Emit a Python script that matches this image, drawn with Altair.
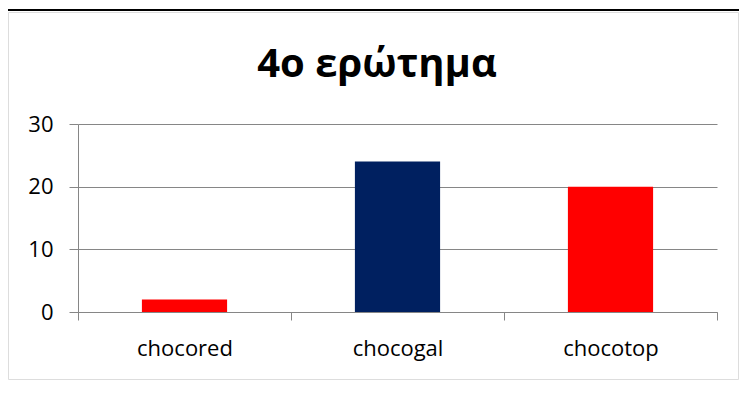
import altair as alt
import pandas as pd

categories = ["chocored", "chocogal", "chocotop"]
values = [2, 24, 20]
bar_colors = ["#FF0000", "#002060", "#FF0000"]
y_ticks = [0, 10, 20, 30]
title_text = "4ο ερώτημα"

df = pd.DataFrame({"cat": categories, "val": values})

FONT = "Open Sans"
GREY = "#868686"

bars = alt.Chart(df).mark_bar(width=alt.RelativeBandSize(0.4)).encode(
    x=alt.X(
        "cat:N",
        sort=categories,
        title=None,
        scale=alt.Scale(range=[70, 709], paddingInner=0, paddingOuter=0),
        axis=alt.Axis(
            orient="bottom",
            offset=-67,
            labelAngle=0,
            labelFont=FONT,
            labelFontSize=22,
            labelColor="black",
            labelBaseline="alphabetic",
            labelPadding=35,
            domainColor=GREY,
            tickColor=GREY,
            tickSize=8,
            tickBand="extent",
            grid=False,
        ),
    ),
    y=alt.Y(
        "val:Q",
        title=None,
        scale=alt.Scale(domain=[0, 30], range=[300, 112], nice=False),
        axis=alt.Axis(
            orient="left",
            offset=-70,
            values=y_ticks,
            labelFont=FONT,
            labelFontSize=22,
            labelColor="black",
            labelPadding=16,
            domainColor=GREY,
            tickColor=GREY,
            tickSize=9,
            grid=True,
            gridColor=GREY,
            gridWidth=1,
        ),
    ),
    color=alt.Color(
        "cat:N",
        scale=alt.Scale(domain=categories, range=bar_colors),
        legend=None,
    ),
)

top_line = alt.Chart(alt.Data(values=[{}])).mark_rule(
    color="black", strokeWidth=2
).encode(x=alt.value(0), x2=alt.value(731), y=alt.value(-2))

chart = (
    alt.layer(top_line, bars)
    .properties(
        width=730,
        height=367,
        title=alt.TitleParams(
            title_text,
            font=FONT,
            fontSize=40,
            fontWeight="bold",
            color="black",
            anchor="middle",
            baseline="alphabetic",
            offset=-108,
            dx=4,
        ),
        autosize=alt.AutoSizeParams(type="none"),
        padding={"left": 0, "top": 4, "right": 1, "bottom": 8},
    )
    .configure_view(stroke=GREY, strokeWidth=1.5)
    .configure(background="white")
)

chart.save("out.html", embed_options={"renderer": "svg", "actions": False})
